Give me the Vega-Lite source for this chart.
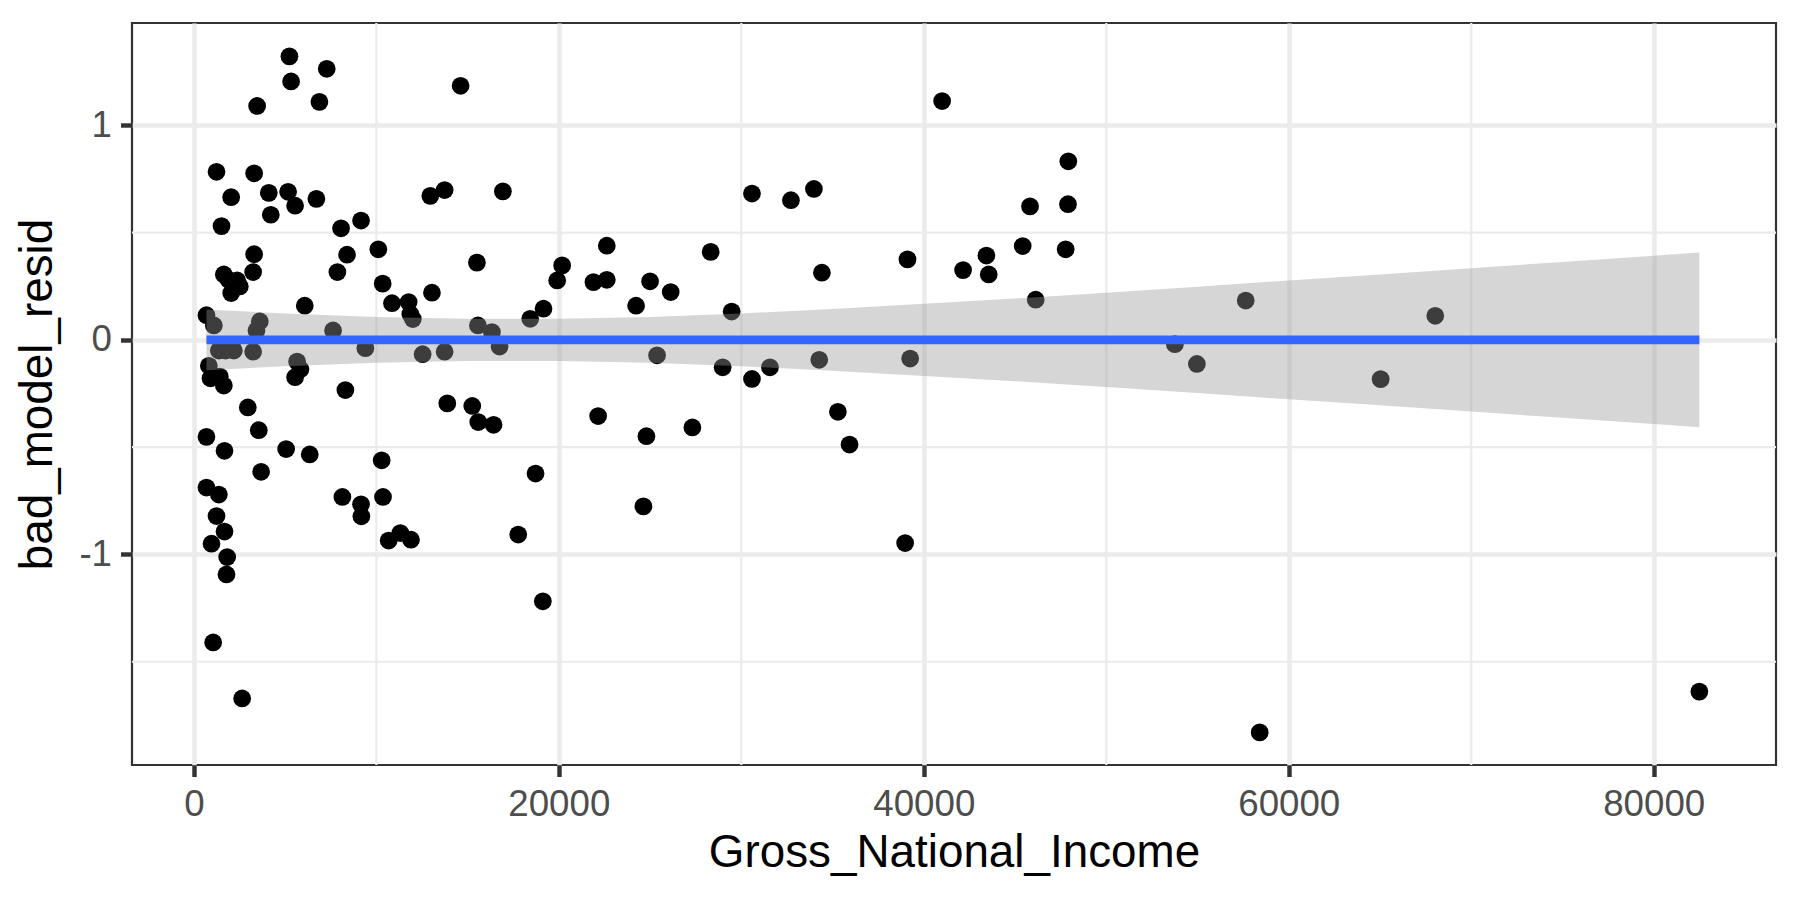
{
  "$schema": "https://vega.github.io/schema/vega-lite/v6.json",
  "description": "Residuals of the bad model against Gross National Income, with a linear smooth",
  "width": 1644,
  "height": 742,
  "autosize": "none",
  "padding": {"left": 132, "top": 23, "right": 24, "bottom": 135},
  "background": "white",
  "config": {
    "font": "Liberation Sans",
    "view": {"stroke": "#333333", "strokeWidth": 2.2},
    "axis": {
      "domain": false,
      "grid": true,
      "gridColor": "#EBEBEB",
      "gridWidth": 4.45,
      "tickColor": "#333333",
      "tickWidth": 4.45,
      "tickSize": 11.5,
      "labelFont": "Liberation Sans",
      "labelFontSize": 36.7,
      "labelColor": "#4D4D4D",
      "titleFont": "Liberation Sans",
      "titleFontSize": 45.8,
      "titleFontWeight": "normal",
      "titleColor": "black"
    }
  },
  "datasets": {
    "countries": [
      {"Gross_National_Income": 5237, "bad_model_resid": 1.321},
      {"Gross_National_Income": 5328, "bad_model_resid": 1.204},
      {"Gross_National_Income": 7281, "bad_model_resid": 1.263},
      {"Gross_National_Income": 3467, "bad_model_resid": 1.090},
      {"Gross_National_Income": 6880, "bad_model_resid": 1.109},
      {"Gross_National_Income": 1241, "bad_model_resid": 0.783},
      {"Gross_National_Income": 3303, "bad_model_resid": 0.776},
      {"Gross_National_Income": 2044, "bad_model_resid": 0.665},
      {"Gross_National_Income": 4106, "bad_model_resid": 0.685},
      {"Gross_National_Income": 5164, "bad_model_resid": 0.690},
      {"Gross_National_Income": 5547, "bad_model_resid": 0.625},
      {"Gross_National_Income": 6715, "bad_model_resid": 0.657},
      {"Gross_National_Income": 4215, "bad_model_resid": 0.583},
      {"Gross_National_Income": 1515, "bad_model_resid": 0.530},
      {"Gross_National_Income": 8066, "bad_model_resid": 0.520},
      {"Gross_National_Income": 9161, "bad_model_resid": 0.556},
      {"Gross_National_Income": 12956, "bad_model_resid": 0.671},
      {"Gross_National_Income": 10109, "bad_model_resid": 0.422},
      {"Gross_National_Income": 8394, "bad_model_resid": 0.397},
      {"Gross_National_Income": 7865, "bad_model_resid": 0.316},
      {"Gross_National_Income": 3303, "bad_model_resid": 0.399},
      {"Gross_National_Income": 3248, "bad_model_resid": 0.316},
      {"Gross_National_Income": 1642, "bad_model_resid": 0.305},
      {"Gross_National_Income": 1900, "bad_model_resid": 0.280},
      {"Gross_National_Income": 2372, "bad_model_resid": 0.277},
      {"Gross_National_Income": 2518, "bad_model_resid": 0.249},
      {"Gross_National_Income": 2044, "bad_model_resid": 0.218},
      {"Gross_National_Income": 6077, "bad_model_resid": 0.159},
      {"Gross_National_Income": 10347, "bad_model_resid": 0.262},
      {"Gross_National_Income": 10858, "bad_model_resid": 0.171},
      {"Gross_National_Income": 11770, "bad_model_resid": 0.176},
      {"Gross_National_Income": 11860, "bad_model_resid": 0.120},
      {"Gross_National_Income": 12000, "bad_model_resid": 0.097},
      {"Gross_National_Income": 13047, "bad_model_resid": 0.220},
      {"Gross_National_Income": 690, "bad_model_resid": 0.115},
      {"Gross_National_Income": 1095, "bad_model_resid": 0.067},
      {"Gross_National_Income": 3613, "bad_model_resid": 0.086},
      {"Gross_National_Income": 3430, "bad_model_resid": 0.044},
      {"Gross_National_Income": 7628, "bad_model_resid": 0.044},
      {"Gross_National_Income": 1369, "bad_model_resid": -0.050},
      {"Gross_National_Income": 1734, "bad_model_resid": -0.050},
      {"Gross_National_Income": 2190, "bad_model_resid": -0.050},
      {"Gross_National_Income": 3248, "bad_model_resid": -0.055},
      {"Gross_National_Income": 9398, "bad_model_resid": -0.039},
      {"Gross_National_Income": 12536, "bad_model_resid": -0.067},
      {"Gross_National_Income": 13741, "bad_model_resid": -0.055},
      {"Gross_National_Income": 821, "bad_model_resid": -0.121},
      {"Gross_National_Income": 912, "bad_model_resid": -0.179},
      {"Gross_National_Income": 1423, "bad_model_resid": -0.171},
      {"Gross_National_Income": 1642, "bad_model_resid": -0.213},
      {"Gross_National_Income": 5657, "bad_model_resid": -0.101},
      {"Gross_National_Income": 5839, "bad_model_resid": -0.137},
      {"Gross_National_Income": 5547, "bad_model_resid": -0.174},
      {"Gross_National_Income": 8303, "bad_model_resid": -0.234},
      {"Gross_National_Income": 2956, "bad_model_resid": -0.315},
      {"Gross_National_Income": 3558, "bad_model_resid": -0.421},
      {"Gross_National_Income": 690, "bad_model_resid": -0.452},
      {"Gross_National_Income": 1679, "bad_model_resid": -0.517},
      {"Gross_National_Income": 5055, "bad_model_resid": -0.509},
      {"Gross_National_Income": 6350, "bad_model_resid": -0.534},
      {"Gross_National_Income": 3686, "bad_model_resid": -0.615},
      {"Gross_National_Income": 10292, "bad_model_resid": -0.561},
      {"Gross_National_Income": 690, "bad_model_resid": -0.688},
      {"Gross_National_Income": 1369, "bad_model_resid": -0.721},
      {"Gross_National_Income": 8139, "bad_model_resid": -0.732},
      {"Gross_National_Income": 9161, "bad_model_resid": -0.766},
      {"Gross_National_Income": 9179, "bad_model_resid": -0.822},
      {"Gross_National_Income": 10365, "bad_model_resid": -0.732},
      {"Gross_National_Income": 1241, "bad_model_resid": -0.821},
      {"Gross_National_Income": 1679, "bad_model_resid": -0.893},
      {"Gross_National_Income": 967, "bad_model_resid": -0.950},
      {"Gross_National_Income": 10675, "bad_model_resid": -0.935},
      {"Gross_National_Income": 11314, "bad_model_resid": -0.900},
      {"Gross_National_Income": 11898, "bad_model_resid": -0.931},
      {"Gross_National_Income": 1825, "bad_model_resid": -1.012},
      {"Gross_National_Income": 1788, "bad_model_resid": -1.093},
      {"Gross_National_Income": 1058, "bad_model_resid": -1.410},
      {"Gross_National_Income": 2646, "bad_model_resid": -1.671},
      {"Gross_National_Income": 14617, "bad_model_resid": 1.184},
      {"Gross_National_Income": 13741, "bad_model_resid": 0.698},
      {"Gross_National_Income": 16934, "bad_model_resid": 0.692},
      {"Gross_National_Income": 15511, "bad_model_resid": 0.360},
      {"Gross_National_Income": 20182, "bad_model_resid": 0.347},
      {"Gross_National_Income": 19909, "bad_model_resid": 0.277},
      {"Gross_National_Income": 22628, "bad_model_resid": 0.439},
      {"Gross_National_Income": 21898, "bad_model_resid": 0.269},
      {"Gross_National_Income": 22628, "bad_model_resid": 0.280},
      {"Gross_National_Income": 25000, "bad_model_resid": 0.273},
      {"Gross_National_Income": 26131, "bad_model_resid": 0.223},
      {"Gross_National_Income": 24234, "bad_model_resid": 0.159},
      {"Gross_National_Income": 28321, "bad_model_resid": 0.410},
      {"Gross_National_Income": 30584, "bad_model_resid": 0.682},
      {"Gross_National_Income": 32719, "bad_model_resid": 0.651},
      {"Gross_National_Income": 33978, "bad_model_resid": 0.703},
      {"Gross_National_Income": 34416, "bad_model_resid": 0.313},
      {"Gross_National_Income": 19161, "bad_model_resid": 0.145},
      {"Gross_National_Income": 18431, "bad_model_resid": 0.098},
      {"Gross_National_Income": 29471, "bad_model_resid": 0.132},
      {"Gross_National_Income": 15566, "bad_model_resid": 0.067},
      {"Gross_National_Income": 16332, "bad_model_resid": 0.036},
      {"Gross_National_Income": 16752, "bad_model_resid": -0.031},
      {"Gross_National_Income": 25383, "bad_model_resid": -0.072},
      {"Gross_National_Income": 28978, "bad_model_resid": -0.128},
      {"Gross_National_Income": 30584, "bad_model_resid": -0.182},
      {"Gross_National_Income": 31569, "bad_model_resid": -0.128},
      {"Gross_National_Income": 34270, "bad_model_resid": -0.093},
      {"Gross_National_Income": 13887, "bad_model_resid": -0.296},
      {"Gross_National_Income": 15255, "bad_model_resid": -0.308},
      {"Gross_National_Income": 15584, "bad_model_resid": -0.383},
      {"Gross_National_Income": 16423, "bad_model_resid": -0.396},
      {"Gross_National_Income": 22153, "bad_model_resid": -0.355},
      {"Gross_National_Income": 24799, "bad_model_resid": -0.449},
      {"Gross_National_Income": 27318, "bad_model_resid": -0.408},
      {"Gross_National_Income": 18723, "bad_model_resid": -0.623},
      {"Gross_National_Income": 24635, "bad_model_resid": -0.776},
      {"Gross_National_Income": 17774, "bad_model_resid": -0.907},
      {"Gross_National_Income": 19124, "bad_model_resid": -1.218},
      {"Gross_National_Income": 35292, "bad_model_resid": -0.335},
      {"Gross_National_Income": 41004, "bad_model_resid": 1.113},
      {"Gross_National_Income": 39106, "bad_model_resid": 0.375},
      {"Gross_National_Income": 47920, "bad_model_resid": 0.832},
      {"Gross_National_Income": 45821, "bad_model_resid": 0.622},
      {"Gross_National_Income": 47901, "bad_model_resid": 0.632},
      {"Gross_National_Income": 45420, "bad_model_resid": 0.437},
      {"Gross_National_Income": 47774, "bad_model_resid": 0.422},
      {"Gross_National_Income": 43431, "bad_model_resid": 0.393},
      {"Gross_National_Income": 42153, "bad_model_resid": 0.325},
      {"Gross_National_Income": 43558, "bad_model_resid": 0.305},
      {"Gross_National_Income": 46131, "bad_model_resid": 0.187},
      {"Gross_National_Income": 57640, "bad_model_resid": 0.183},
      {"Gross_National_Income": 39252, "bad_model_resid": -0.087},
      {"Gross_National_Income": 53759, "bad_model_resid": -0.020},
      {"Gross_National_Income": 54964, "bad_model_resid": -0.112},
      {"Gross_National_Income": 35931, "bad_model_resid": -0.488},
      {"Gross_National_Income": 38978, "bad_model_resid": -0.947},
      {"Gross_National_Income": 68028, "bad_model_resid": 0.112},
      {"Gross_National_Income": 65035, "bad_model_resid": -0.183},
      {"Gross_National_Income": 58408, "bad_model_resid": -1.829},
      {"Gross_National_Income": 82500, "bad_model_resid": -1.639}
    ],
    "smooth": [
      {"Gross_National_Income": 690, "fit": 0, "lower": -0.141, "upper": 0.141},
      {"Gross_National_Income": 5000, "fit": 0, "lower": -0.123, "upper": 0.123},
      {"Gross_National_Income": 10000, "fit": 0, "lower": -0.107, "upper": 0.107},
      {"Gross_National_Income": 15000, "fit": 0, "lower": -0.098, "upper": 0.098},
      {"Gross_National_Income": 20000, "fit": 0, "lower": -0.098, "upper": 0.098},
      {"Gross_National_Income": 25000, "fit": 0, "lower": -0.107, "upper": 0.107},
      {"Gross_National_Income": 30000, "fit": 0, "lower": -0.123, "upper": 0.123},
      {"Gross_National_Income": 35000, "fit": 0, "lower": -0.144, "upper": 0.144},
      {"Gross_National_Income": 40000, "fit": 0, "lower": -0.168, "upper": 0.168},
      {"Gross_National_Income": 45000, "fit": 0, "lower": -0.193, "upper": 0.193},
      {"Gross_National_Income": 50000, "fit": 0, "lower": -0.220, "upper": 0.220},
      {"Gross_National_Income": 55000, "fit": 0, "lower": -0.248, "upper": 0.248},
      {"Gross_National_Income": 60000, "fit": 0, "lower": -0.277, "upper": 0.277},
      {"Gross_National_Income": 65000, "fit": 0, "lower": -0.305, "upper": 0.305},
      {"Gross_National_Income": 70000, "fit": 0, "lower": -0.334, "upper": 0.334},
      {"Gross_National_Income": 75000, "fit": 0, "lower": -0.363, "upper": 0.363},
      {"Gross_National_Income": 80000, "fit": 0, "lower": -0.392, "upper": 0.392},
      {"Gross_National_Income": 82500, "fit": 0, "lower": -0.407, "upper": 0.407}
    ],
    "minor_x": [
      {"Gross_National_Income": 10000},
      {"Gross_National_Income": 30000},
      {"Gross_National_Income": 50000},
      {"Gross_National_Income": 70000}
    ],
    "minor_y": [
      {"bad_model_resid": -1.5},
      {"bad_model_resid": -0.5},
      {"bad_model_resid": 0.5}
    ]
  },
  "layer": [
    {
      "data": {"name": "minor_x"},
      "mark": {"type": "rule", "color": "#EBEBEB", "strokeWidth": 2.2},
      "encoding": {
        "x": {"field": "Gross_National_Income", "type": "quantitative",
              "scale": {"domain": [-3390, 86700], "nice": false, "zero": false}}
      }
    },
    {
      "data": {"name": "minor_y"},
      "mark": {"type": "rule", "color": "#EBEBEB", "strokeWidth": 2.2},
      "encoding": {
        "y": {"field": "bad_model_resid", "type": "quantitative",
              "scale": {"domain": [-1.981, 1.4765], "nice": false, "zero": false}}
      }
    },
    {
      "data": {"name": "countries"},
      "mark": {"type": "circle", "color": "black", "opacity": 1, "size": 315},
      "encoding": {
        "x": {
          "field": "Gross_National_Income", "type": "quantitative",
          "scale": {"domain": [-3390, 86700], "nice": false, "zero": false},
          "axis": {
            "values": [0, 20000, 40000, 60000, 80000],
            "labelExpr": "'' + datum.value",
            "labelPadding": 10,
            "titlePadding": 7,
            "title": "Gross_National_Income"
          }
        },
        "y": {
          "field": "bad_model_resid", "type": "quantitative",
          "scale": {"domain": [-1.981, 1.4765], "nice": false, "zero": false},
          "axis": {
            "values": [-1, 0, 1],
            "labelExpr": "'' + datum.value",
            "labelPadding": 9,
            "titlePadding": 17,
            "title": "bad_model_resid"
          }
        }
      }
    },
    {
      "data": {"name": "smooth"},
      "mark": {"type": "area", "color": "#999999", "opacity": 0.4},
      "encoding": {
        "x": {"field": "Gross_National_Income", "type": "quantitative"},
        "y": {"field": "lower", "type": "quantitative"},
        "y2": {"field": "upper"}
      }
    },
    {
      "data": {"name": "smooth"},
      "mark": {"type": "line", "color": "#3366FF", "strokeWidth": 8.9},
      "encoding": {
        "x": {"field": "Gross_National_Income", "type": "quantitative"},
        "y": {"field": "fit", "type": "quantitative"}
      }
    }
  ]
}
